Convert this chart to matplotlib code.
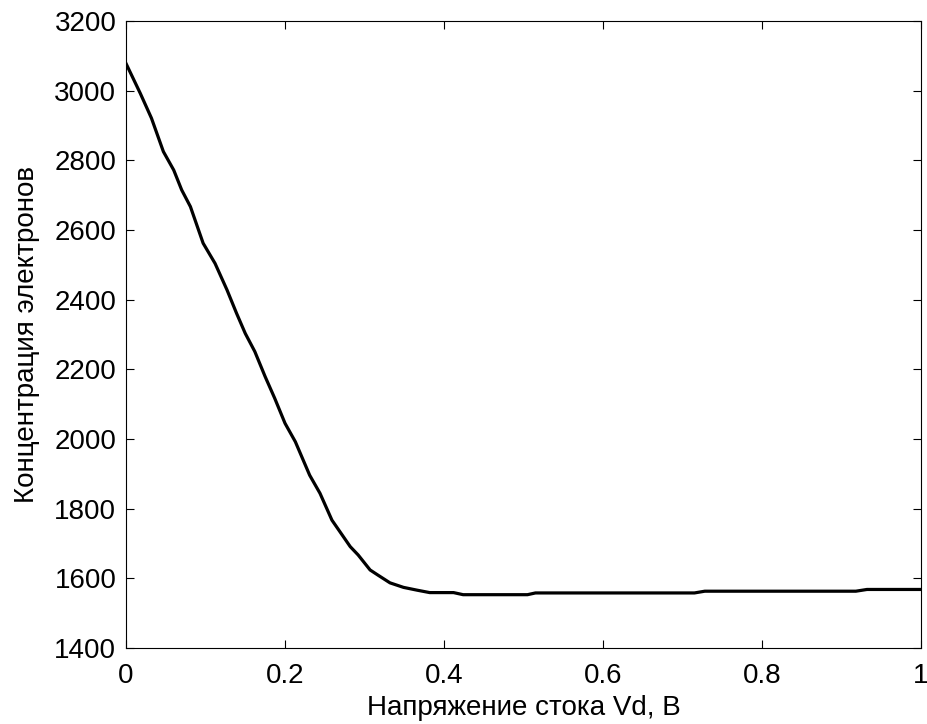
import numpy as np
from matplotlib import pyplot as plt

plt.rcParams['font.family'] = ['Liberation Sans', 'DejaVu Sans']

# напряжение стока, В
vd = [0.0, 0.018, 0.032, 0.047, 0.060, 0.070, 0.081, 0.097, 0.112, 0.127,
      0.139, 0.150, 0.162, 0.175, 0.187, 0.200, 0.213, 0.231, 0.244, 0.259,
      0.269, 0.282, 0.292, 0.307, 0.317, 0.332, 0.349, 0.366, 0.382, 0.412,
      0.424, 0.505, 0.515, 0.715, 0.728, 0.918, 0.932, 1.0]
# концентрация электронов
n_el = [3078, 2992, 2921, 2825, 2772, 2715, 2667, 2562, 2504, 2428,
        2361, 2303, 2251, 2179, 2117, 2045, 1992, 1896, 1844, 1767,
        1734, 1691, 1667, 1624, 1609, 1587, 1574, 1566, 1559, 1559,
        1553, 1553, 1558, 1558, 1563, 1563, 1568, 1568]

fig = plt.figure(figsize=(9.28, 7.24), dpi=100)
ax = fig.add_axes([0.1358, 0.105, 0.8567, 0.866])
ax.plot(vd, n_el, color='black', lw=2.3)

ax.set_xlim(0, 1)
ax.set_ylim(1400, 3200)
ax.set_xticks(np.arange(0, 1.01, 0.2))
ax.set_xticklabels(['0', '0.2', '0.4', '0.6', '0.8', '1'])
ax.set_yticks(np.arange(1400, 3201, 200))
ax.tick_params(direction='in', top=True, right=True, labelsize=20,
               length=6, width=0.8)
ax.tick_params(axis='y', pad=7)
ax.tick_params(axis='x', pad=11)
for s in ax.spines.values():
    s.set_linewidth(0.8)

ax.set_xlabel('Напряжение стока Vd, В', fontsize=20, labelpad=4)
ax.set_ylabel('Концентрация электронов', fontsize=20, labelpad=10)

fig.savefig('out.png', dpi=100, facecolor='white')
